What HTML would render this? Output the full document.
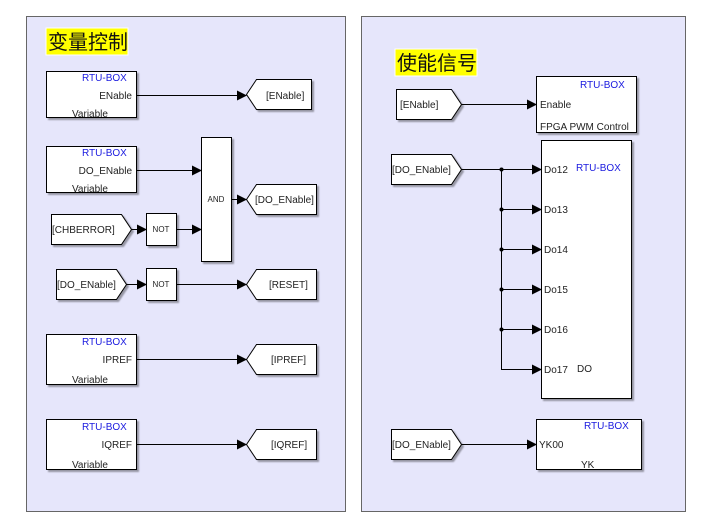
<!DOCTYPE html>
<html><head><meta charset="utf-8"><style>
html,body{margin:0;padding:0;background:#fff;}
svg{display:block;}
text{font-family:"Liberation Sans",Arial,sans-serif;font-size:10px;fill:#222;}
.b{fill:#1a1adf;}
.cj{font-family:"Liberation Sans","Noto Sans CJK SC",sans-serif;font-size:20px;fill:#111;}
</style></head><body>
<svg width="708" height="530" viewBox="0 0 708 530" xmlns="http://www.w3.org/2000/svg">
<defs>
<marker id="a" markerWidth="10" markerHeight="10" refX="9" refY="5" orient="auto" markerUnits="userSpaceOnUse"><path d="M0,0 L10,5 L0,10 z" fill="#000"/></marker>
<filter id="s" x="-10%" y="-10%" width="130%" height="130%"><feDropShadow dx="2" dy="2" stdDeviation="0.8" flood-color="#000" flood-opacity="0.35"/></filter>
</defs>
<!-- panels -->
<rect x="26.5" y="16.5" width="319" height="495" fill="#e6e6fb" stroke="#666" stroke-width="1"/>
<rect x="361.5" y="16.5" width="324" height="495" fill="#e6e6fb" stroke="#666" stroke-width="1"/>
<rect x="46" y="28" width="82" height="27" fill="#ffff00" stroke="#fff"/>
<text class="cj" x="48" y="49">变量控制</text>
<rect x="395" y="49" width="82" height="27" fill="#ffff00" stroke="#fff"/>
<text class="cj" x="397" y="70">使能信号</text>

<g fill="#fff" stroke="#000" stroke-width="1" filter="url(#s)">
<!-- left -->
<rect x="46.5" y="71.5" width="90" height="46"/>
<rect x="46.5" y="146.5" width="90" height="46"/>
<rect x="201.5" y="137.5" width="30" height="124"/>
<rect x="146.5" y="213.5" width="30" height="32"/>
<rect x="146.5" y="268.5" width="30" height="32"/>
<rect x="46.5" y="334.5" width="90" height="50"/>
<rect x="46.5" y="419.5" width="90" height="50"/>
<path d="M246.5,94.5 L256.5,79.5 L311.5,79.5 L311.5,109.5 L256.5,109.5 Z"/>
<path d="M246.5,199.5 L256.5,184.5 L316.5,184.5 L316.5,214.5 L256.5,214.5 Z"/>
<path d="M246.5,284.5 L256.5,269.5 L316.5,269.5 L316.5,299.5 L256.5,299.5 Z"/>
<path d="M246.5,359.5 L256.5,344.5 L316.5,344.5 L316.5,374.5 L256.5,374.5 Z"/>
<path d="M246.5,444.5 L256.5,429.5 L316.5,429.5 L316.5,459.5 L256.5,459.5 Z"/>
<path d="M51.5,214.5 L121.5,214.5 L131.5,229.5 L121.5,244.5 L51.5,244.5 Z"/>
<path d="M56.5,269.5 L116.5,269.5 L126.5,284.5 L116.5,299.5 L56.5,299.5 Z"/>
<!-- right -->
<path d="M396.5,89.5 L451.5,89.5 L461.5,104.5 L451.5,119.5 L396.5,119.5 Z"/>
<path d="M391.5,154.5 L451.5,154.5 L461.5,169.5 L451.5,184.5 L391.5,184.5 Z"/>
<path d="M391.5,429.5 L451.5,429.5 L461.5,444.5 L451.5,459.5 L391.5,459.5 Z"/>
<rect x="536.5" y="76.5" width="100" height="56"/>
<rect x="541.5" y="140.5" width="90" height="258"/>
<rect x="536.5" y="419.5" width="105" height="50"/>
</g>

<g stroke="#000" stroke-width="1" fill="none" marker-end="url(#a)">
<line x1="136" y1="95.5" x2="246" y2="95.5"/>
<line x1="136" y1="170.5" x2="201" y2="170.5"/>
<line x1="131" y1="229.5" x2="146" y2="229.5"/>
<line x1="176" y1="229.5" x2="201" y2="229.5"/>
<line x1="231" y1="199.5" x2="246" y2="199.5"/>
<line x1="126" y1="284.5" x2="146" y2="284.5"/>
<line x1="176" y1="284.5" x2="246" y2="284.5"/>
<line x1="136" y1="359.5" x2="246" y2="359.5"/>
<line x1="136" y1="444.5" x2="246" y2="444.5"/>
<line x1="461" y1="104.5" x2="536" y2="104.5"/>
<line x1="461" y1="444.5" x2="536" y2="444.5"/>
<line x1="461" y1="169.5" x2="541" y2="169.5"/>
<line x1="501.5" y1="209.5" x2="541" y2="209.5"/>
<line x1="501.5" y1="249.5" x2="541" y2="249.5"/>
<line x1="501.5" y1="289.5" x2="541" y2="289.5"/>
<line x1="501.5" y1="329.5" x2="541" y2="329.5"/>
<path d="M501.5,169.5 L501.5,369.5 L541,369.5"/>
</g>
<g fill="#000">
<circle cx="501.5" cy="169.5" r="2"/><circle cx="501.5" cy="209.5" r="2"/>
<circle cx="501.5" cy="249.5" r="2"/><circle cx="501.5" cy="289.5" r="2"/>
<circle cx="501.5" cy="329.5" r="2"/>
</g>

<!-- left texts -->
<text class="b" x="82" y="81">RTU-BOX</text>
<text x="132" y="99" text-anchor="end">ENable</text>
<text x="72" y="117">Variable</text>
<text class="b" x="82" y="156">RTU-BOX</text>
<text x="132" y="174" text-anchor="end">DO_ENable</text>
<text x="72" y="192">Variable</text>
<text x="216" y="202" text-anchor="middle" style="font-size:8px">AND</text>
<text x="161" y="232" text-anchor="middle" style="font-size:8px">NOT</text>
<text x="161" y="287" text-anchor="middle" style="font-size:8px">NOT</text>
<text x="52" y="233">[CHBERROR]</text>
<text x="57" y="288">[DO_ENable]</text>
<text x="266" y="99">[ENable]</text>
<text x="255" y="203">[DO_ENable]</text>
<text x="269" y="288">[RESET]</text>
<text x="271" y="363">[IPREF]</text>
<text x="271" y="448">[IQREF]</text>
<text class="b" x="82" y="345">RTU-BOX</text>
<text x="132" y="363" text-anchor="end">IPREF</text>
<text x="72" y="383">Variable</text>
<text class="b" x="82" y="430">RTU-BOX</text>
<text x="132" y="448" text-anchor="end">IQREF</text>
<text x="72" y="468">Variable</text>
<!-- right texts -->
<text x="400" y="108">[ENable]</text>
<text x="392" y="173">[DO_ENable]</text>
<text x="392" y="448">[DO_ENable]</text>
<text class="b" x="580" y="88">RTU-BOX</text>
<text x="540" y="108">Enable</text>
<text x="540" y="130">FPGA PWM Control</text>
<text class="b" x="576" y="171">RTU-BOX</text>
<text x="544" y="173">Do12</text>
<text x="544" y="213">Do13</text>
<text x="544" y="253">Do14</text>
<text x="544" y="293">Do15</text>
<text x="544" y="333">Do16</text>
<text x="544" y="373">Do17</text>
<text x="577" y="372">DO</text>
<text class="b" x="584" y="429">RTU-BOX</text>
<text x="539" y="448">YK00</text>
<text x="581" y="468">YK</text>
</svg>
</body></html>
